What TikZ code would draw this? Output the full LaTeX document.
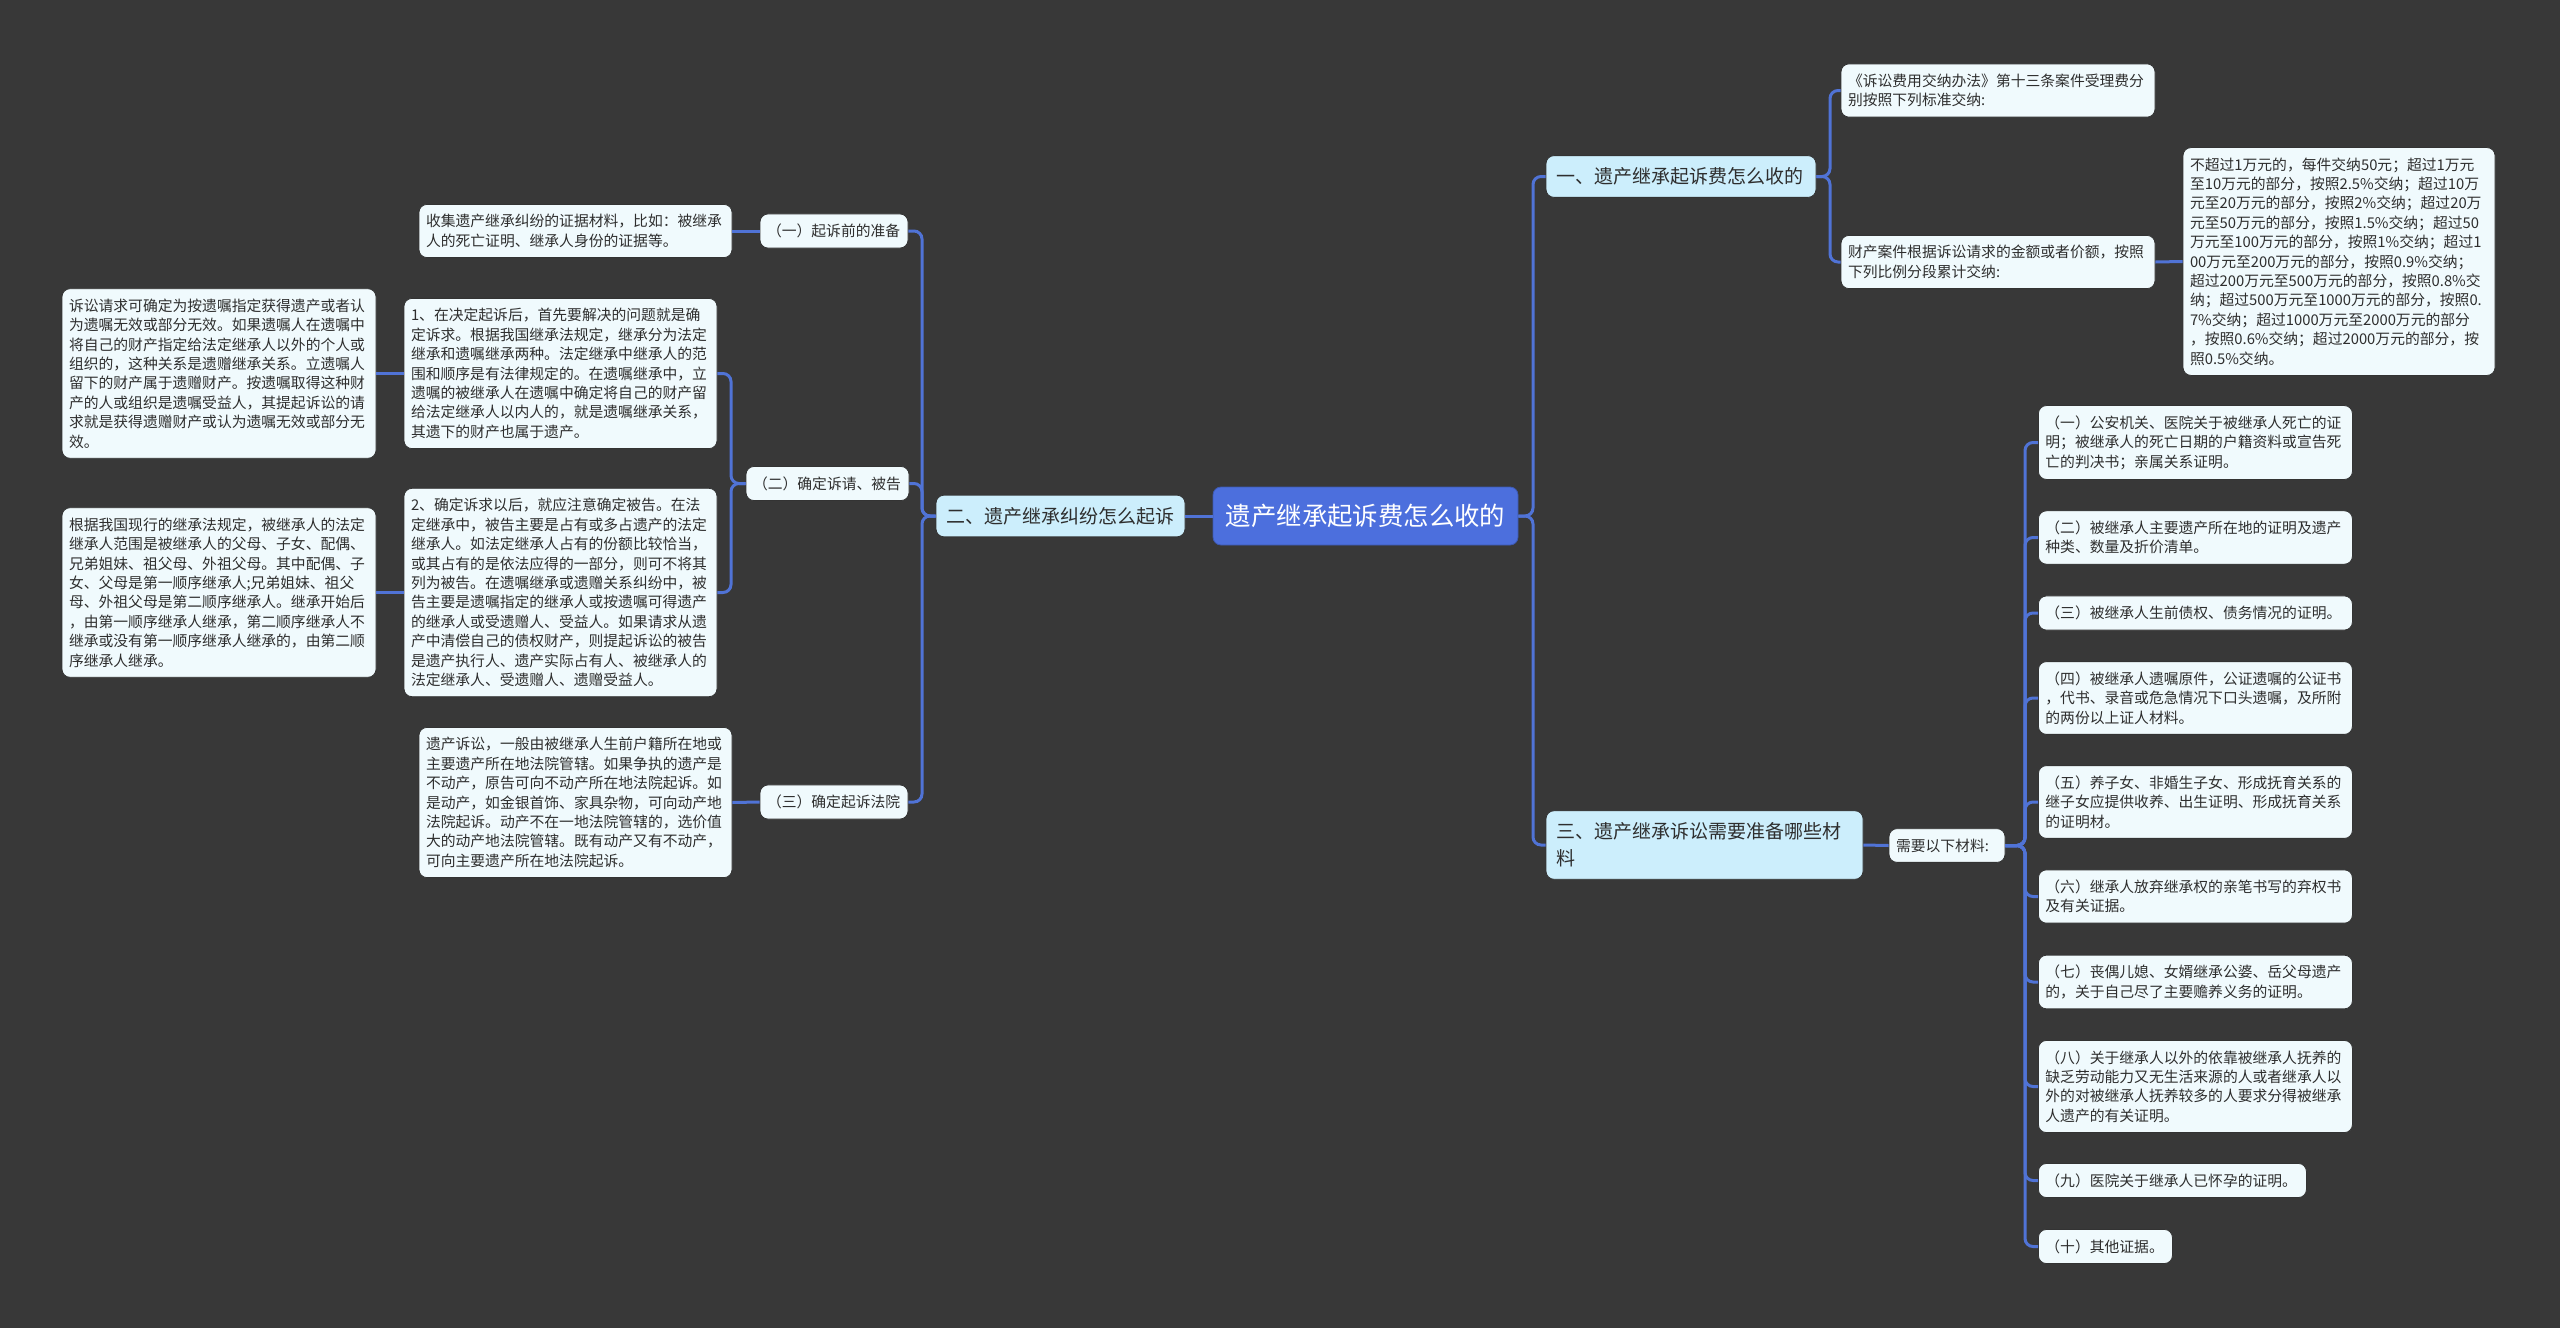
\documentclass[tikz,border=0pt]{standalone}
\usepackage{fontspec}
\setmainfont{Noto Sans CJK SC}
\definecolor{bgc}{HTML}{383838}
\definecolor{linkc}{HTML}{5073D6}
\definecolor{rootc}{HTML}{4C6FDD}
\definecolor{topicc}{HTML}{CCEEFC}
\definecolor{leafc}{HTML}{F0FAFD}
\definecolor{textc}{HTML}{2E2E2E}

\begin{document}
\begin{tikzpicture}[x=0.5pt, y=-0.5pt,
  link/.style={draw=linkc, line width=1.5pt, rounded corners=4pt},
  root/.style={draw=rootc!80!black, fill=rootc, rounded corners=4pt, text=white, inner sep=0pt,
    minimum width=152.5pt, minimum height=29pt, font=\fontsize{12.7pt}{15pt}\selectfont},
  topic/.style={draw=black!80, fill=topicc, rounded corners=4pt, inner xsep=5pt, inner ysep=6pt,
    align=left, text=textc, text width=#1, font=\fontsize{9.5pt}{13.5pt}\selectfont},
  leaf/.style={draw=black!80, fill=leafc, rounded corners=4pt, inner xsep=3.5pt, inner ysep=5pt,
    align=left, text=textc, text width=#1, font=\fontsize{7.4pt}{9.7pt}\selectfont}]
\useasboundingbox (0,0) rectangle (2560,1328);
\fill[bgc] (0,0) rectangle (2560,1328);
% centre and first level
\node[root] (root) at (1365.5,516) {遗产继承起诉费怎么收的};
\node[topic=125pt] (fee) at (1681,176.5) {一、遗产继承起诉费怎么收的};
\node[topic=114.5pt] (sue) at (1060.5,516) {二、遗产继承纠纷怎么起诉};
\node[topic=148.5pt] (doc) at (1704.5,845) {三、遗产继承诉讼需要准备哪些材\\料};
\coordinate (jR) at (1533,516);
\coordinate (jL) at (922,516);
\coordinate (jFee) at (1830,176.5);
\coordinate (jClaim) at (731,483.5);
\coordinate (jNeed) at (2025,845.5);
% fee branch
\node[leaf=150pt] (feeA) at (1998,90.5) {《诉讼费用交纳办法》第十三条案件受理费分\\别按照下列标准交纳:};
\node[leaf=150pt] (feeB) at (1998,262) {财产案件根据诉讼请求的金额或者价额，按照\\下列比例分段累计交纳:};
\node[leaf=149pt] (rate) at (2339,261.5) {不超过1万元的，每件交纳50元；超过1万元\\至10万元的部分，按照2.5\%交纳；超过10万\\元至20万元的部分，按照2\%交纳；超过20万\\元至50万元的部分，按照1.5\%交纳；超过50\\万元至100万元的部分，按照1\%交纳；超过1\\00万元至200万元的部分，按照0.9\%交纳；\\超过200万元至500万元的部分，按照0.8\%交\\纳；超过500万元至1000万元的部分，按照0.\\7\%交纳；超过1000万元至2000万元的部分\\，按照0.6\%交纳；超过2000万元的部分，按\\照0.5\%交纳。};
% suing branch
\node[leaf=67pt] (prep) at (834,231) {（一）起诉前的准备};
\node[leaf=149.5pt] (prepT) at (575.5,231) {收集遗产继承纠纷的证据材料，比如：被继承\\人的死亡证明、继承人身份的证据等。};
\node[leaf=74.5pt] (claim) at (827.5,483.5) {（二）确定诉请、被告};
\node[leaf=149.5pt] (claimA) at (560.5,373.5) {1、在决定起诉后，首先要解决的问题就是确\\定诉求。根据我国继承法规定，继承分为法定\\继承和遗嘱继承两种。法定继承中继承人的范\\围和顺序是有法律规定的。在遗嘱继承中，立\\遗嘱的被继承人在遗嘱中确定将自己的财产留\\给法定继承人以内人的，就是遗嘱继承关系，\\其遗下的财产也属于遗产。};
\node[leaf=150pt] (claimAT) at (219,373.5) {诉讼请求可确定为按遗嘱指定获得遗产或者认\\为遗嘱无效或部分无效。如果遗嘱人在遗嘱中\\将自己的财产指定给法定继承人以外的个人或\\组织的，这种关系是遗赠继承关系。立遗嘱人\\留下的财产属于遗赠财产。按遗嘱取得这种财\\产的人或组织是遗嘱受益人，其提起诉讼的请\\求就是获得遗赠财产或认为遗嘱无效或部分无\\效。};
\node[leaf=149.5pt] (claimB) at (560.5,592.5) {2、确定诉求以后，就应注意确定被告。在法\\定继承中，被告主要是占有或多占遗产的法定\\继承人。如法定继承人占有的份额比较恰当，\\或其占有的是依法应得的一部分，则可不将其\\列为被告。在遗嘱继承或遗赠关系纠纷中，被\\告主要是遗嘱指定的继承人或按遗嘱可得遗产\\的继承人或受遗赠人、受益人。如果请求从遗\\产中清偿自己的债权财产，则提起诉讼的被告\\是遗产执行人、遗产实际占有人、被继承人的\\法定继承人、受遗赠人、遗赠受益人。};
\node[leaf=150pt] (claimBT) at (219,592.5) {根据我国现行的继承法规定，被继承人的法定\\继承人范围是被继承人的父母、子女、配偶、\\兄弟姐妹、祖父母、外祖父母。其中配偶、子\\女、父母是第一顺序继承人;兄弟姐妹、祖父\\母、外祖父母是第二顺序继承人。继承开始后\\，由第一顺序继承人继承，第二顺序继承人不\\继承或没有第一顺序继承人继承的，由第二顺\\序继承人继承。};
\node[leaf=67pt] (court) at (834,802) {（三）确定起诉法院};
\node[leaf=149.5pt] (courtT) at (575.5,802.5) {遗产诉讼，一般由被继承人生前户籍所在地或\\主要遗产所在地法院管辖。如果争执的遗产是\\不动产，原告可向不动产所在地法院起诉。如\\是动产，如金银首饰、家具杂物，可向动产地\\法院起诉。动产不在一地法院管辖的，选价值\\大的动产地法院管辖。既有动产又有不动产，\\可向主要遗产所在地法院起诉。};
% materials branch
\node[leaf=51pt] (need) at (1947,845.5) {需要以下材料:};
\foreach \y/\w/\t [count=\i] in {
  442.5/150pt/{（一）公安机关、医院关于被继承人死亡的证\\明；被继承人的死亡日期的户籍资料或宣告死\\亡的判决书；亲属关系证明。},
  537.5/150pt/{（二）被继承人主要遗产所在地的证明及遗产\\种类、数量及折价清单。},
  613/150pt/{（三）被继承人生前债权、债务情况的证明。},
  698/150pt/{（四）被继承人遗嘱原件，公证遗嘱的公证书\\，代书、录音或危急情况下口头遗嘱，及所附\\的两份以上证人材料。},
  802/150pt/{（五）养子女、非婚生子女、形成抚育关系的\\继子女应提供收养、出生证明、形成抚育关系\\的证明材。},
  896.5/150pt/{（六）继承人放弃继承权的亲笔书写的弃权书\\及有关证据。},
  982/150pt/{（七）丧偶儿媳、女婿继承公婆、岳父母遗产\\的，关于自己尽了主要赡养义务的证明。},
  1086.5/150pt/{（八）关于继承人以外的依靠被继承人抚养的\\缺乏劳动能力又无生活来源的人或者继承人以\\外的对被继承人抚养较多的人要求分得被继承\\人遗产的有关证明。},
  1180.5/127pt/{（九）医院关于继承人已怀孕的证明。},
  1246.5/60pt/{（十）其他证据。}} {
  \node[leaf=\w, anchor=west] (item\i) at (2038,\y) {\t};
  \draw[link] (need.east) -- (jNeed) |- (item\i.west);}
% connectors
\draw[link] (root.east) -- (jR) |- (fee.west);
\draw[link] (root.east) -- (jR) |- (doc.west);
\draw[link] (root.west) -- (sue.east);
\draw[link] (fee.east) -- (jFee) |- (feeA.west);
\draw[link] (fee.east) -- (jFee) |- (feeB.west);
\draw[link] (feeB.east) -- (rate.west);
\draw[link] (doc.east) -- (need.west);
\draw[link] (sue.west) -- (jL) |- (prep.east);
\draw[link] (sue.west) -- (jL) |- (claim.east);
\draw[link] (sue.west) -- (jL) |- (court.east);
\draw[link] (prep.west) -- (prepT.east);
\draw[link] (claim.west) -- (jClaim) |- (claimA.east);
\draw[link] (claim.west) -- (jClaim) |- (claimB.east);
\draw[link] (claimA.west) -- (claimAT.east);
\draw[link] (claimB.west) -- (claimBT.east);
\draw[link] (court.west) -- (courtT.east);
\end{tikzpicture}
\end{document}
